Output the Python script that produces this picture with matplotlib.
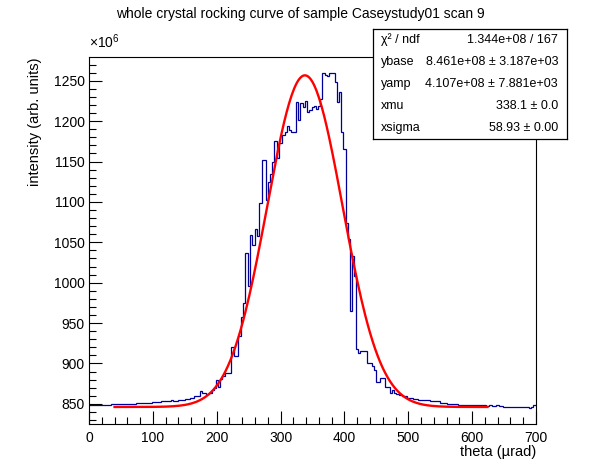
import matplotlib
matplotlib.use("Agg")
import matplotlib.pyplot as plt
from matplotlib.ticker import MultipleLocator
import numpy as np

plt.rcParams['font.family'] = ['Liberation Sans', 'DejaVu Sans']
plt.rcParams['mathtext.fontset'] = 'custom'
plt.rcParams['mathtext.rm'] = 'Liberation Sans'
plt.rcParams['mathtext.it'] = 'Liberation Sans:italic'

# histogram steps (theta in urad, intensity in 1e6)
bin_edges = [0, 35, 73.6, 98, 112.7, 128.4, 131, 140, 150, 158, 164, 174,
             177.5, 183, 188, 192, 195.5, 198.4, 201.5, 205, 208.8, 213,
             216.6, 222.5, 226.5, 233.8, 237.8, 241, 245, 249, 251.7, 255.4,
             259.5, 262.5, 266, 271.5, 276.7, 280, 283.5, 286, 289.5, 295,
             297, 302, 307, 310, 313.5, 317, 324.5, 328, 331, 335, 338,
             341.5, 345, 349, 352, 355.5, 359, 362, 365.5, 369.5, 373, 376,
             384.7, 388.3, 391.5, 394.7, 398.2, 402.5, 406.3, 408.5, 411.7,
             414.8, 418.3, 421.5, 425, 436, 442.7, 446, 449.5, 456, 463,
             471, 474.5, 478, 481.5, 485, 490, 497.5, 508, 515, 523.5, 534,
             549, 560, 578, 622, 627, 631, 637, 642, 649, 689, 692.5, 696,
             700]
counts = [848.4, 849.6, 851.3, 852.5, 853.3, 854.5, 853.3, 854.5, 855.5,
          857, 859.5, 865.5, 864, 862.5, 864, 867, 869, 879.5, 870.5, 881,
          884, 888.5, 888, 920, 909, 934, 958, 975, 1037, 996, 1059, 1047,
          1067, 1058, 1099, 1151.5, 1103, 1125, 1134, 1150, 1175, 1155,
          1173, 1183, 1187, 1194, 1189, 1186, 1224, 1202, 1223, 1218, 1225,
          1211, 1214, 1217, 1219, 1215, 1219, 1228, 1259.5, 1257.5, 1256.5,
          1259.5, 1249, 1224, 1236, 1186, 1166, 1074, 1054, 965, 1033, 1008,
          918, 913, 915.5, 900, 897, 892, 876.5, 881.5, 870.5, 864, 867,
          864, 862, 861, 860, 857, 856, 855, 854.4, 853, 851, 850.3, 849,
          847, 848, 847, 848, 847, 846.4, 844.8, 846.4, 849]

# fit result shown in the stats box (values in 1e6)
ybase = 846.1
yamp = 410.7
xmu = 338.1
xsigma = 58.93
fit_range = [40, 624]

stat_names = ['χ² / ndf', 'ybase', 'yamp', 'xmu', 'xsigma']
stat_values = ['1.344e+08 / 167', '8.461e+08 ± 3.187e+03',
               '4.107e+08 ± 7.881e+03', '338.1 ± 0.0', '58.93 ± 0.00']

W, H = 596, 472
fig = plt.figure(figsize=(W / 100, H / 100), dpi=100)
fig.patch.set_facecolor('white')

ax = fig.add_axes([89 / W, 1 - 424 / H, (536 - 89) / W, (424 - 57) / H])
ax.stairs(counts, bin_edges, color='#000099', linewidth=0.9, baseline=None)

fx = np.linspace(fit_range[0], fit_range[1], 300)
fy = ybase + yamp * np.exp(-0.5 * ((fx - xmu) / xsigma) ** 2)
ax.plot(fx, fy, color='#ff0000', linewidth=1.7)

ax.set_xlim(0, 700)
ax.set_ylim(825, 1279.5)
ax.xaxis.set_major_locator(MultipleLocator(100))
ax.xaxis.set_minor_locator(MultipleLocator(20))
ax.yaxis.set_major_locator(MultipleLocator(50))
ax.yaxis.set_minor_locator(MultipleLocator(10))
ax.tick_params(which='both', direction='in', top=False, right=False,
               labelsize=10, width=0.8)
ax.tick_params(which='major', length=9.5)
ax.tick_params(which='minor', length=4.8)
ax.tick_params(axis='x', pad=5)
ax.tick_params(axis='y', pad=3)
for s in ax.spines.values():
    s.set_linewidth(0.8)

fig.text(89 / W, 1 - 51 / H, r'$\times10^{6}$', fontsize=10,
         ha='left', va='bottom')
fig.text(300 / W, 1 - 14 / H,
         'whole crystal rocking curve of sample Caseystudy01 scan 9',
         fontsize=10, ha='center', va='center')
fig.text(536 / W, 1 - 452 / H, 'theta (µrad)', fontsize=10.5,
         ha='right', va='center')
fig.text(35 / W, 1 - 57 / H, 'intensity (arb. units)', fontsize=10.5,
         rotation=90, ha='center', va='top')

# stats box
box = fig.add_axes([373 / W, 1 - 139 / H, 194 / W, 110 / H])
box.set_xticks([])
box.set_yticks([])
box.set_facecolor('white')
for s in box.spines.values():
    s.set_linewidth(0.9)
rows_y = [0.9, 0.7, 0.5, 0.3, 0.1]
for name, val, yy in zip(stat_names, stat_values, rows_y):
    box.text(0.041, yy, name, fontsize=9, ha='left', va='center',
             transform=box.transAxes)
    box.text(0.954, yy, val, fontsize=9, ha='right', va='center',
             transform=box.transAxes)

fig.savefig('out.png', dpi=100)
